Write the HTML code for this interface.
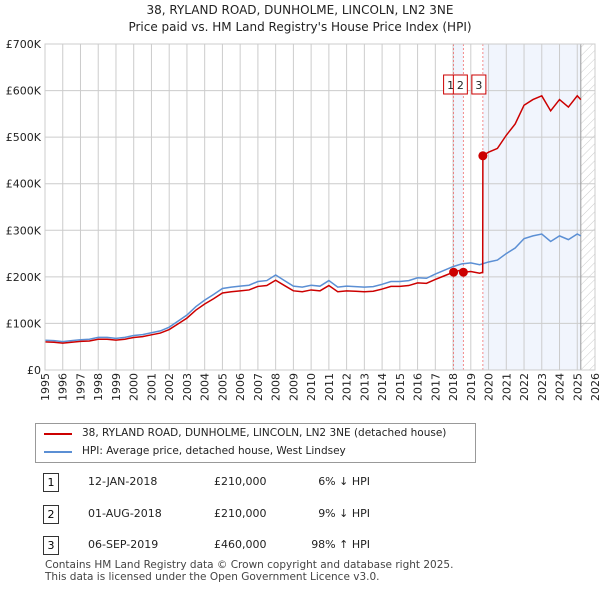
<!DOCTYPE html>
<html><head><meta charset="utf-8"><style>
body{margin:0;background:#fff;font-family:"DejaVu Sans","Liberation Sans",sans-serif;}
.t{position:absolute;font-size:11px;color:#222;white-space:nowrap;}
</style></head><body>
<div style="position:relative;width:600px;height:590px;overflow:hidden">
<div class="t" style="left:0;width:600px;text-align:center;top:3px;font-size:12px">38, RYLAND ROAD, DUNHOLME, LINCOLN, LN2 3NE</div>
<div class="t" style="left:0;width:600px;text-align:center;top:20px;font-size:12px">Price paid vs. HM Land Registry's House Price Index (HPI)</div>
<svg id="chart" width="600" height="420" style="position:absolute;left:0;top:0;font-family:'DejaVu Sans',sans-serif"></svg>
<div style="position:absolute;left:35px;top:423px;width:439px;height:38px;border:1px solid #999;background:#fff">
 <div style="position:absolute;left:8px;top:9px;width:28px;border-top:2px solid #cc0000"></div>
 <div class="t" style="left:46px;top:3px;font-size:10.5px">38, RYLAND ROAD, DUNHOLME, LINCOLN, LN2 3NE (detached house)</div>
 <div style="position:absolute;left:8px;top:27px;width:28px;border-top:2px solid #5b8fd4"></div>
 <div class="t" style="left:46px;top:21px;font-size:10.5px">HPI: Average price, detached house, West Lindsey</div>
</div>
<div id="tbl"></div>
<div class="t" style="left:45px;top:559px;font-size:10.5px;color:#444">Contains HM Land Registry data © Crown copyright and database right 2025.</div>
<div class="t" style="left:45px;top:571px;font-size:10.5px;color:#444">This data is licensed under the Open Government Licence v3.0.</div>
</div>
<script>
const hpiYears=[1995,1995.5,1996,1996.5,1997,1997.5,1998,1998.5,1999,1999.5,2000,2000.5,2001,2001.5,2002,2002.5,2003,2003.5,2004,2004.5,2005,2005.5,2006,2006.5,2007,2007.5,2008,2008.5,2009,2009.5,2010,2010.5,2011,2011.5,2012,2012.5,2013,2013.5,2014,2014.5,2015,2015.5,2016,2016.5,2017,2017.5,2018,2018.5,2019,2019.5,2020,2020.5,2021,2021.5,2022,2022.5,2023,2023.5,2024,2024.5,2025,2025.2];
const hpiValues=[64,63,61,63,65,66,70,70,68,70,74,76,80,84,92,105,118,136,150,162,175,178,180,182,190,192,204,192,180,178,182,180,192,178,180,179,178,179,184,190,190,192,198,197,206,214,222,228,230,226,232,236,250,262,282,288,292,276,288,280,292,288];
const saleDates=[2018.03,2018.58,2019.68];
const salePrices=[210,210,460];
const saleLabels=["1","2","3"];
const saleDateText=["12-JAN-2018","01-AUG-2018","06-SEP-2019"];
const salePriceText=["£210,000","£210,000","£460,000"];
const saleHpiText=["6% ↓ HPI","9% ↓ HPI","98% ↑ HPI"];
const yTicks=[0,100,200,300,400,500,600,700];
const yTickLabels=["£0","£100K","£200K","£300K","£400K","£500K","£600K","£700K"];
const xTicks=[1995,1996,1997,1998,1999,2000,2001,2002,2003,2004,2005,2006,2007,2008,2009,2010,2011,2012,2013,2014,2015,2016,2017,2018,2019,2020,2021,2022,2023,2024,2025,2026];

const X0=45,X1=595,Y0=370,Y1=44;
const x=v=>X0+(v-1995)*(X1-X0)/31;
const y=v=>Y0-v*(Y0-Y1)/700;
const NS="http://www.w3.org/2000/svg";
const svg=document.getElementById('chart');
function mk(tag,attrs,parent){const e=document.createElementNS(NS,tag);for(const k in attrs)e.setAttribute(k,attrs[k]);(parent||svg).appendChild(e);return e;}
function hpiAt(t){for(let i=1;i<hpiYears.length;i++){if(t<=hpiYears[i]){const f=(t-hpiYears[i-1])/(hpiYears[i]-hpiYears[i-1]);return hpiValues[i-1]+f*(hpiValues[i]-hpiValues[i-1]);}}return hpiValues[hpiValues.length-1];}
let r=mk('rect',{x:x(saleDates[0]),y:Y1,width:x(saleDates[1])-x(saleDates[0]),height:Y0-Y1,fill:'#f1f5fd'});

r=mk('rect',{x:x(saleDates[2]),y:Y1,width:x(2025.2)-x(saleDates[2]),height:Y0-Y1,fill:'#f1f5fd'});

const defs=mk('defs',{});const pat=mk('pattern',{id:'h',width:6,height:6,patternUnits:'userSpaceOnUse',patternTransform:'rotate(45)'},defs);
mk('line',{x1:0,y1:0,x2:0,y2:6,stroke:'#ccc','stroke-width':1},pat);
r=mk('rect',{x:x(2025.2),y:Y1,width:X1-x(2025.2),height:Y0-Y1,fill:'url(#h)'});

yTicks.forEach((v,i)=>{const l=mk('line',{x1:X0,x2:X1,y1:y(v),y2:y(v),stroke:'#ccc'});
const t=mk('text',{x:X0-4,y:y(v)+4,'text-anchor':'end','font-size':11,fill:'#222'});t.textContent=yTickLabels[i];});
xTicks.forEach(v=>{const l=mk('line',{x1:x(v),x2:x(v),y1:Y1,y2:Y0,stroke:'#ccc'});
const t=mk('text',{x:0,y:0,transform:`translate(${x(v)+4},${Y0+31}) rotate(-90)`,'font-size':11,fill:'#222'});t.textContent=v;});
let vl=mk('line',{x1:x(2025.2),x2:x(2025.2),y1:Y1,y2:Y0,stroke:'#999'});
saleDates.forEach((d,i)=>{const l=mk('line',{x1:x(d),x2:x(d),y1:Y1,y2:Y0,stroke:'#f07070','stroke-dasharray':'2,2','stroke-width':0.8});});
const hp=mk('polyline',{points:hpiYears.map((t,i)=>x(t)+','+y(hpiValues[i])).join(' '),fill:'none',stroke:'#5b8fd4','stroke-width':1.5});

const pts=[];
function ratioAt(t){let k=0;for(let i=0;i<saleDates.length;i++)if(t>=saleDates[i])k=i;return salePrices[k]/hpiAt(saleDates[k]);}
hpiYears.forEach((t,i)=>{
 saleDates.forEach((d,k)=>{if(d>(i?hpiYears[i-1]:0)&&d<=t){if(k>0){pts.push([d-0.01,hpiAt(d)*salePrices[k-1]/hpiAt(saleDates[k-1])]);}pts.push([d,salePrices[k]]);}});
 pts.push([t,hpiValues[i]*ratioAt(t)]);});
const pl=mk('polyline',{points:pts.map(p=>x(p[0])+','+y(p[1])).join(' '),fill:'none',stroke:'#cc0000','stroke-width':1.5});

saleDates.forEach((d,i)=>{const c=mk('circle',{cx:x(d),cy:y(salePrices[i]),r:4.5,fill:'#cc0000'});});
const bx=[x(saleDates[0])-10,x(saleDates[1])-10,x(saleDates[2])-11];
saleLabels.forEach((s,i)=>{const g=mk('g',{});
mk('rect',{x:bx[i],y:75,width:i==1?14:14,height:19,fill:'#fff',stroke:'#cc0000'},g);
const t=mk('text',{x:bx[i]+7,y:89,'text-anchor':'middle','font-size':11,fill:'#222'},g);t.textContent=s;});
mk('rect',{x:X0,y:Y1,width:X1-X0,height:Y0-Y1,fill:'none',stroke:'#ccc'});
const tbl=document.getElementById('tbl');const rowsY=[482,514,545];
saleLabels.forEach((s,i)=>{const yy=rowsY[i];
tbl.insertAdjacentHTML('beforeend',`<div>
<div style="position:absolute;left:43px;top:${yy-9}px;width:14px;height:17px;border:1px solid #333;font-size:11px;text-align:center;line-height:17px">${s}</div>
<div class="t" style="left:88px;top:${yy-7}px">${saleDateText[i]}</div>
<div class="t" style="left:214px;top:${yy-7}px">${salePriceText[i]}</div>
<div class="t" style="left:290px;top:${yy-7}px;width:80px;text-align:right">${saleHpiText[i]}</div></div>`);});
</script>
</body></html>
